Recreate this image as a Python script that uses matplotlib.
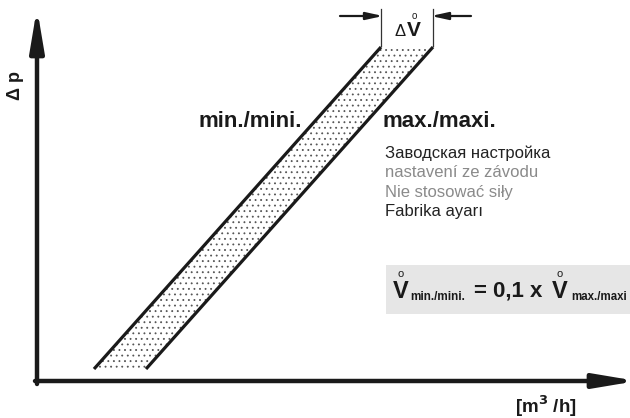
import matplotlib
matplotlib.use("Agg")
import matplotlib.pyplot as plt
from matplotlib.patches import Polygon, Rectangle

plt.rcParams['font.family'] = ['Liberation Sans', 'DejaVu Sans']
plt.rcParams['hatch.linewidth'] = 0.6

# band edges (pixel-like coordinates, y grows downward)
min_x = [94, 381]
min_y = [369, 47]
max_x = [146, 433]
max_y = [369, 47]

labels_band = ["min./mini.", "max./maxi."]
notes = ["Заводская настройка", "nastavení ze závodu", "Nie stosować siły", "Fabrika ayarı"]
note_colors = ["#222222", "#8a8a8a", "#8a8a8a", "#222222"]
ink = "#1a1a1a"

fig = plt.figure(figsize=(6.3, 4.18), dpi=100)
ax = fig.add_axes([0, 0, 1, 1])
ax.set_xlim(0, 630)
ax.set_ylim(418, 0)
ax.axis("off")

# axes arrows
head = "-|>,head_length=2.5,head_width=0.42"
ax.annotate("", xy=(37, 8), xytext=(37, 384), annotation_clip=False,
            arrowprops=dict(arrowstyle=head, lw=3.2, color=ink, shrinkA=0, shrinkB=0))
ax.annotate("", xy=(637, 381), xytext=(35, 381), annotation_clip=False,
            arrowprops=dict(arrowstyle=head, lw=3.2, color=ink, shrinkA=0, shrinkB=0))

# stippled band
band = Polygon(list(zip(min_x, min_y)) + list(zip(max_x[::-1], max_y[::-1])),
               closed=True, facecolor="white", edgecolor="#555555", hatch="...", lw=0)
ax.add_patch(band)
ax.plot(min_x, min_y, color=ink, lw=2.3, solid_capstyle="butt")
ax.plot(max_x, max_y, color=ink, lw=2.3, solid_capstyle="butt")

# delta V marker
ax.plot([min_x[1], min_x[1]], [9, 46], color="#333333", lw=0.9)
ax.plot([max_x[1], max_x[1]], [9, 46], color="#333333", lw=0.9)
small = "-|>,head_length=1.0,head_width=0.22"
ax.annotate("", xy=(min_x[1] + 2, 16), xytext=(340, 16),
            arrowprops=dict(arrowstyle=small, lw=1.6, color=ink, shrinkA=0, shrinkB=0))
ax.annotate("", xy=(max_x[1] - 2, 16), xytext=(471, 16),
            arrowprops=dict(arrowstyle=small, lw=1.6, color=ink, shrinkA=0, shrinkB=0))
ax.text(400, 36, "Δ", fontsize=12, ha="center", va="baseline", color=ink)
ax.text(414, 36, "V", fontsize=15, fontweight="bold", ha="center", va="baseline", color=ink)
ax.text(414, 19, "o", fontsize=7, ha="center", va="baseline", color=ink)

# labels
ax.text(16, 85, "Δ p", rotation=90, fontsize=13, fontweight="bold", ha="center", va="center", color=ink)
ax.text(199, 127, labels_band[0], fontsize=16, fontweight="bold", ha="left", va="baseline", color=ink)
ax.text(383, 127, labels_band[1], fontsize=16, fontweight="bold", ha="left", va="baseline", color=ink)
for i, (t, c) in enumerate(zip(notes, note_colors)):
    ax.text(385, 153 + i * 19.5, t, fontsize=12, ha="left", va="center", color=c)

# formula box
ax.add_patch(Rectangle((386, 265), 250, 49, facecolor="#e6e6e6", edgecolor="none"))
ax.text(393, 298, "V", fontsize=17, fontweight="bold", ha="left", va="baseline", color=ink)
ax.text(401, 277, "o", fontsize=8, ha="center", va="baseline", color=ink)
ax.text(410, 300, "min./mini.", fontsize=8.5, fontweight="bold", ha="left", va="baseline", color=ink)
ax.text(474, 297, "= 0,1 x", fontsize=16, fontweight="bold", ha="left", va="baseline", color=ink)
ax.text(552, 298, "V", fontsize=17, fontweight="bold", ha="left", va="baseline", color=ink)
ax.text(560, 277, "o", fontsize=8, ha="center", va="baseline", color=ink)
ax.text(571, 300, "max./maxi", fontsize=8.3, fontweight="bold", ha="left", va="baseline", color=ink)

ax.text(515, 413, "[m$^{\\mathbf{3}}$ /h]", fontsize=13.5, fontweight="bold", ha="left", va="baseline", color=ink)

fig.savefig("out.png", dpi=100)
